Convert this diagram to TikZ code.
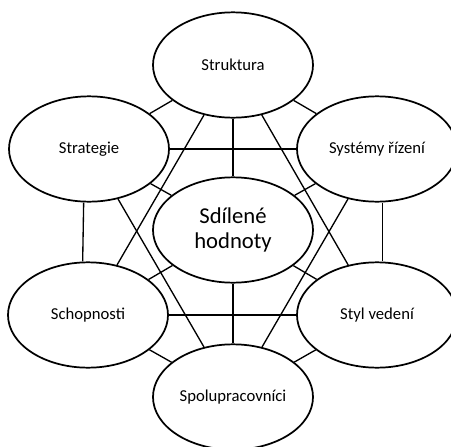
\documentclass[tikz,border=0pt]{standalone}
\usepackage{fontspec}
\setmainfont{Carlito}
\usetikzlibrary{shapes.geometric}
\begin{document}
\begin{tikzpicture}[x=0.75pt,y=-0.75pt,
        part/.style={ellipse,draw,line width=1.3pt,fill=white,minimum width=120pt,minimum height=79pt,inner sep=1pt,font=\fontsize{12.5}{14}\selectfont},
        core/.style={part,align=center,font=\fontsize{17}{19}\selectfont},
        link/.style={line width=1pt}]
        \useasboundingbox (0,0) rectangle (451,447);
        % Outer ring
        \node[part] (struktura) at (233,65) {Struktura};
        \node[part] (strategie) at (89,149) {Strategie};
        \node[part] (systemy) at (377,149) {Systémy řízení};
        \node[part] (schopnosti) at (88,315) {Schopnosti};
        \node[part] (styl) at (377,315) {Styl vedení};
        \node[part] (spolu) at (233,397) {Spolupracovníci};
        % Middle
        \node[core] (hodnoty) at (233,230) {Sdílené\\hodnoty};
        % Links
        \draw[link] (struktura) -- (strategie);
        \draw[link] (struktura) -- (systemy);
        \draw[link] (struktura) -- (hodnoty);
        \draw[link] (struktura) -- (schopnosti);
        \draw[link] (struktura) -- (styl);
        \draw[link] (strategie) -- (systemy);
        \draw[link] (strategie) -- (hodnoty);
        \draw[link] ([xshift=-4pt]strategie.south) -- ([xshift=-4pt]schopnosti.north);
        \draw[link] (strategie) -- (spolu);
        \draw[link] (systemy) -- (hodnoty);
        \draw[link] ([xshift=4pt]systemy.south) -- ([xshift=4pt]styl.north);
        \draw[link] (systemy) -- (spolu);
        \draw[link] (hodnoty) -- (schopnosti);
        \draw[link] (hodnoty) -- (styl);
        \draw[link] (hodnoty) -- (spolu);
        \draw[link] (schopnosti) -- (styl);
        \draw[link] (schopnosti) -- (spolu);
        \draw[link] (styl) -- (spolu);
\end{tikzpicture}
\end{document}
